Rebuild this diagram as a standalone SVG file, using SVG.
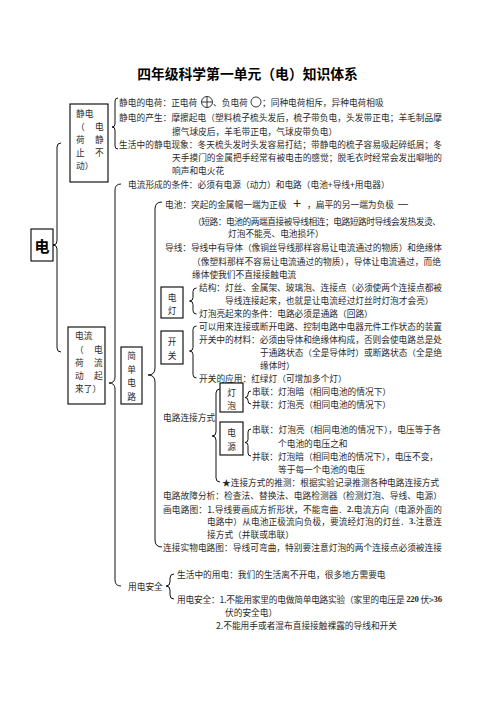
<svg xmlns="http://www.w3.org/2000/svg" width="496" height="702" viewBox="0 0 496 702">
<style>
.t{font-family:"Noto Sans CJK SC","Noto Sans CJK JP",sans-serif;font-size:8.7px;fill:#2a2a2a;dominant-baseline:central}
.title{font-family:"Noto Sans CJK SC",sans-serif;font-size:13.8px;font-weight:bold;fill:#000;dominant-baseline:central;text-anchor:middle}
.big{font-family:"Noto Sans CJK SC",sans-serif;font-size:15px;font-weight:bold;fill:#000;dominant-baseline:central;text-anchor:middle}
.c{text-anchor:middle}
.box{fill:none;stroke:#000;stroke-width:1.1}
.br{fill:none;stroke:#111;stroke-width:1}
.sym{fill:none;stroke:#222;stroke-width:0.9}
.num{font-family:"Liberation Serif",serif;font-weight:bold}
</style>
<rect width="496" height="702" fill="#fff"/>
<text class="title" x="247.5" y="73">四年级科学第一单元（电）知识体系</text>

<g id="connectors">
<path class="br" d="M61,143 Q57,143 57,147 L57,241 Q57,245 53,245 Q57,245 57,249 L57,348 Q57,352 61,352"/>
<path class="br" d="M118,98 Q115,98 115,101 L115,124 Q115,127 112,127 Q115,127 115,130 L115,146 Q115,149 118,149"/>
<path class="br" d="M121,184 Q115,184 115,190 L115,377 Q115,383 109,383 Q115,383 115,389 L115,580 Q115,586 121,586"/>
<path class="br" d="M162,202 Q155,202 155,209 L155,368 Q155,375 148,375 Q155,375 155,382 L155,540 Q155,547 162,547"/>
<path class="br" d="M196.5,288 Q193,288 193,291.5 L193,297.5 Q193,301 189.5,301 Q193,301 193,304.5 L193,310.5 Q193,314 196.5,314"/>
<path class="br" d="M196.5,326 Q193,326 193,329.5 L193,347.5 Q193,351 189.5,351 Q193,351 193,354.5 L193,374.5 Q193,378 196.5,378"/>
<path class="br" d="M220,389 Q216,389 216,393 L216,432 Q216,436 212,436 Q216,436 216,440 L216,478 Q216,482 220,482"/>
<path class="br" d="M251,391 Q248,391 248,394 L248,394.5 Q248,397.5 245,397.5 Q248,397.5 248,400.5 L248,401 Q248,404 251,404"/>
<path class="br" d="M251,429 Q248,429 248,432 L248,439.5 Q248,442.5 245,442.5 Q248,442.5 248,445.5 L248,453 Q248,456 251,456"/>
<path class="br" d="M174,574 Q170,574 170,578 L170,582 Q170,586 166,586 Q170,586 170,590 L170,595 Q170,599 174,599"/>
</g>

<g id="node-dian">
<rect class="box" x="31" y="229" width="22" height="32"/>
<text class="big" x="42" y="245">电</text>
</g>

<g id="node-jingdian">
<rect class="box" x="70" y="104" width="38" height="78"/>
<text class="t" x="76" y="113">静电</text>
<text class="t" x="76" y="126">（</text><text class="t" x="95" y="126">电</text>
<text class="t" x="76" y="139">荷</text><text class="t" x="95" y="139">静</text>
<text class="t" x="76" y="152">止</text><text class="t" x="95" y="152">不</text>
<text class="t" x="76" y="165">动）</text>
</g>

<g id="static-items">
<text class="t" x="119" y="102">静电的电荷：正电荷</text>
<circle class="sym" cx="207" cy="102" r="5.5"/>
<path class="sym" d="M201.5,102 H212.5 M207,96.5 V107.5"/>
<text class="t" x="213" y="102">、负电荷</text>
<circle class="sym" cx="256" cy="102" r="5"/>
<text class="t" x="262" y="102">；同种电荷相斥，异种电荷相吸</text>
<text class="t" x="119" y="117" textLength="323" lengthAdjust="spacing">静电的产生：摩擦起电（塑料梳子梳头发后，梳子带负电，头发带正电；羊毛制品摩</text>
<text class="t" x="172" y="131">擦气球皮后，羊毛带正电，气球皮带负电）</text>
<text class="t" x="119" y="144" textLength="323" lengthAdjust="spacing">生活中的静电现象：冬天梳头发时头发容易打结；带静电的梳子容易吸起碎纸屑；冬</text>
<text class="t" x="172" y="157" textLength="270" lengthAdjust="spacing">天手摸门的金属把手经常有被电击的感觉；脱毛衣时经常会发出噼啪的</text>
<text class="t" x="172" y="170">响声和电火花</text>
</g>

<g id="node-dianliu">
<rect class="box" x="68" y="327" width="37" height="77"/>
<text class="t" x="75" y="335">电流</text>
<text class="t" x="75" y="349">（</text><text class="t" x="94" y="349">电</text>
<text class="t" x="75" y="362">荷</text><text class="t" x="94" y="362">流</text>
<text class="t" x="75" y="375">动</text><text class="t" x="94" y="375">起</text>
<text class="t" x="75" y="388">来了）</text>
</g>

<g id="current-cond">
<text class="t" x="128" y="184">电流形成的条件：必须有电源（动力）和电路（电池+导线+用电器）</text>
</g>

<g id="node-jiandan">
<rect class="box" x="121" y="347" width="21" height="57"/>
<text class="t c" x="131.5" y="355">简</text>
<text class="t c" x="131.5" y="369">单</text>
<text class="t c" x="131.5" y="382">电</text>
<text class="t c" x="131.5" y="396">路</text>
</g>

<g id="battery">
<text class="t" x="165" y="204">电池：突起的金属帽一端为正极</text>
<text class="t" x="297" y="203" style="font-size:14px;text-anchor:middle;font-family:'Liberation Sans',sans-serif">+</text>
<text class="t" x="307" y="204">，扁平的另一端为负极</text>
<text class="t" x="398" y="203" style="font-family:'Liberation Sans',sans-serif;font-size:10px">—</text>
<text class="t" x="193" y="221" textLength="248" lengthAdjust="spacing">（短路：电池的两端直接被导线相连；电路短路时导线会发热发烫、</text>
<text class="t" x="228" y="233">灯泡不能亮、电池损坏）</text>
</g>

<g id="wire">
<text class="t" x="165" y="247" textLength="277" lengthAdjust="spacing">导线：导线中有导体（像铜丝导线那样容易让电流通过的物质）和绝缘体</text>
<text class="t" x="192" y="261" textLength="249" lengthAdjust="spacing">（像塑料那样不容易让电流通过的物质），导体让电流通过，而绝</text>
<text class="t" x="192" y="274">缘体使我们不直接接触电流</text>
</g>

<g id="node-diandeng">
<rect class="box" x="161" y="287" width="22" height="31"/>
<text class="t c" x="172" y="297">电</text>
<text class="t c" x="172" y="310">灯</text>
<text class="t" x="199" y="287" textLength="243" lengthAdjust="spacing">结构：灯丝、金属架、玻璃泡、连接点（必须使两个连接点都被</text>
<text class="t" x="225" y="300">导线连接起来，也就是让电流经过灯丝时灯泡才会亮）</text>
<text class="t" x="199" y="313">灯泡亮起来的条件：电路必须是通路（回路）</text>
</g>

<g id="node-kaiguan">
<rect class="box" x="161" y="331" width="22" height="33"/>
<text class="t c" x="172" y="341">开</text>
<text class="t c" x="172" y="355">关</text>
<text class="t" x="199" y="326" textLength="243" lengthAdjust="spacing">可以用来连接或断开电路、控制电路中电器元件工作状态的装置</text>
<text class="t" x="199" y="339" textLength="243" lengthAdjust="spacing">开关中的材料：必须由导体和绝缘体构成，否则会使电路总是处</text>
<text class="t" x="260" y="352" textLength="182" lengthAdjust="spacing">于通路状态（全是导体时）或断路状态（全是绝</text>
<text class="t" x="260" y="365">缘体时）</text>
<text class="t" x="199" y="378">开关的应用：红绿灯（可增加多个灯）</text>
</g>

<g id="node-lianjie">
<text class="t" x="163" y="417">电路连接方式</text>
</g>

<g id="node-dengpao">
<rect class="box" x="220" y="383" width="23" height="29"/>
<text class="t c" x="231.5" y="392">灯</text>
<text class="t c" x="231.5" y="405">泡</text>
<text class="t" x="252" y="391">串联：灯泡暗（相同电池的情况下）</text>
<text class="t" x="252" y="404">并联：灯泡亮（相同电池的情况下）</text>
</g>

<g id="node-dianyuan">
<rect class="box" x="220" y="422" width="23" height="33"/>
<text class="t c" x="231.5" y="432">电</text>
<text class="t c" x="231.5" y="446">源</text>
<text class="t" x="252" y="429" textLength="189" lengthAdjust="spacing">串联：灯泡亮（相同电池的情况下），电压等于各</text>
<text class="t" x="278" y="443">个电池的电压之和</text>
<text class="t" x="252" y="456" textLength="186" lengthAdjust="spacing">并联：灯泡暗（相同电池的情况下），电压不变，</text>
<text class="t" x="278" y="469">等于每一个电池的电压</text>
</g>

<g id="circuit-misc">
<text class="t" x="222" y="482">★连接方式的推测：根据实验记录推测各种电路连接方式</text>
<text class="t" x="163" y="495" textLength="279" lengthAdjust="spacing">电路故障分析：检查法、替换法、电路检测器（检测灯泡、导线、电源）</text>
<text class="t" x="163" y="509" textLength="279" lengthAdjust="spacing">画电路图：1.导线要画成方折形状，不能弯曲．<tspan class="num">2.</tspan>电流方向（电源外面的</text>
<text class="t" x="207" y="521" textLength="235" lengthAdjust="spacing">电路中）从电池正极流向负极，要流经灯泡的灯丝．<tspan class="num">3.</tspan>注意连</text>
<text class="t" x="207" y="534">接方式（并联或串联）</text>
<text class="t" x="163" y="547" textLength="279" lengthAdjust="spacing">连接实物电路图：导线可弯曲，特别要注意灯泡的两个连接点必须被连接</text>
</g>

<g id="node-anquan">
<text class="t" x="128" y="586">用电安全</text>
<text class="t" x="177" y="574">生活中的用电：我们的生活离不开电，很多地方需要电</text>
<text class="t" x="177" y="599" textLength="265" lengthAdjust="spacing">用电安全：1.不能用家里的电做简单电路实验（家里的电压是 <tspan class="num">220</tspan> 伏&gt;<tspan class="num">36</tspan></text>
<text class="t" x="225" y="612">伏的安全电）</text>
<text class="t" x="216" y="625">2.不能用手或者湿布直接接触裸露的导线和开关</text>
</g>
</svg>
